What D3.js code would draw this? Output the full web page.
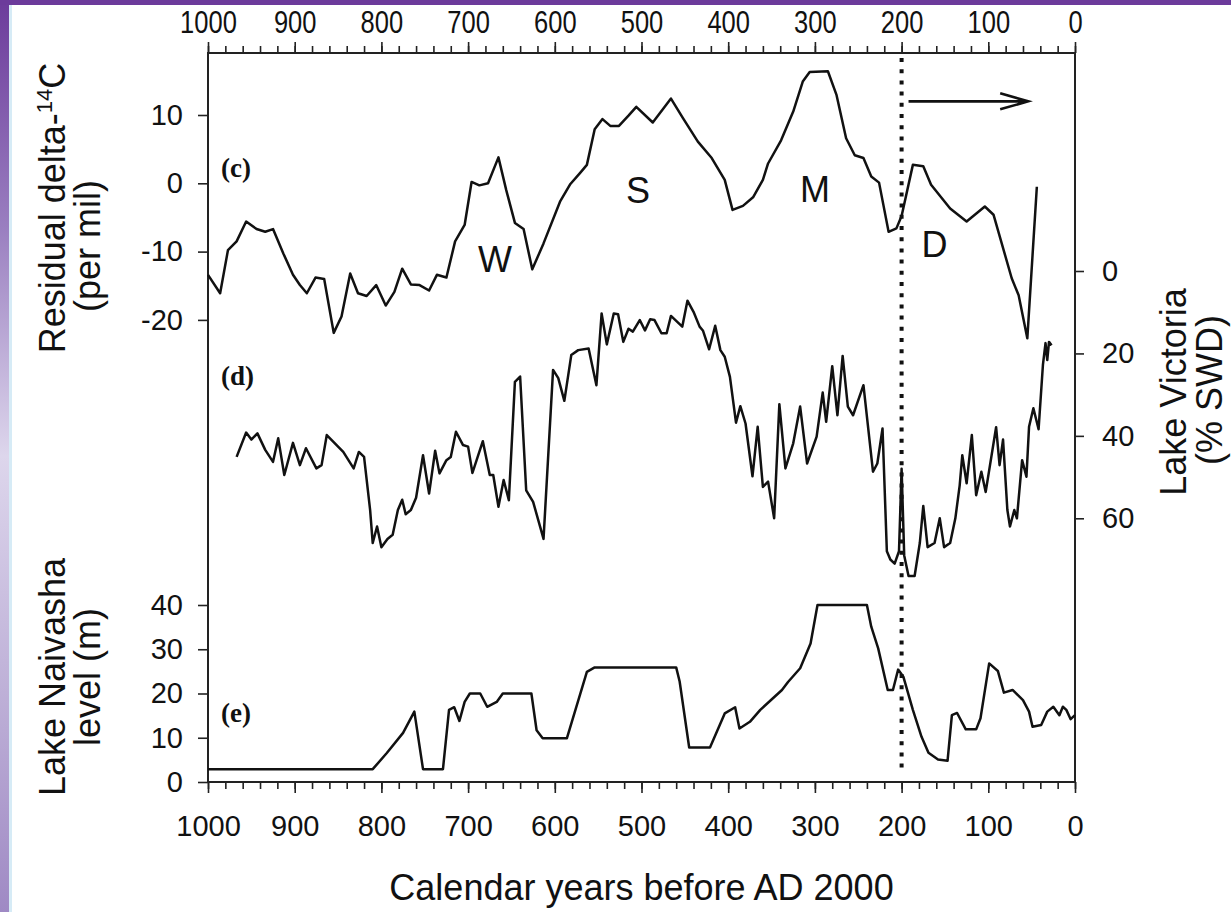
<!DOCTYPE html>
<html>
<head>
<meta charset="utf-8">
<script src="https://cdn.jsdelivr.net/npm/d3@7"></script>
<style>
  html, body { margin: 0; padding: 0; background: #fff; }
  svg { display: block; }
</style>
</head>
<body>
<div id="viz"></div>
<script>
'use strict';

// (c) residual delta-14C, per mil
const cYears = [1000, 986, 977, 967, 956, 944, 934, 925, 913, 902, 894, 886, 876, 866, 855, 846, 836, 827, 817, 806,
  795, 785, 776, 766, 756, 745, 736, 725, 715, 704, 696, 687, 677, 665, 656, 646, 636, 626, 613, 594,
  582, 571, 563, 554, 545, 536, 526, 515, 506, 487, 466, 452, 435, 419, 404, 395, 383, 371, 360, 354,
  339, 325, 314, 306, 285, 275, 264, 254, 244, 235, 226, 215, 206, 200, 187, 175, 166, 144, 125, 104,
  94, 73, 65, 55, 44];
const cValues = [-13.4, -16.1, -9.8, -8.5, -5.6, -6.7, -7.1, -6.7, -10.3, -13.4, -14.9, -16.1, -13.8, -14.0, -21.9, -19.5, -13.2, -16.1, -16.5, -14.9,
  -17.9, -15.9, -12.5, -14.8, -14.9, -15.7, -13.4, -13.8, -8.5, -6.1, 0.2, -0.3, 0.0, 3.8, -1.0, -5.8, -6.7, -12.6, -8.8, -2.7,
  -0.1, 1.5, 2.7, 7.9, 9.4, 8.4, 8.4, 9.9, 11.2, 8.9, 12.4, 9.5, 6.1, 3.7, 0.5, -3.9, -3.3, -2.0, 0.5, 2.9,
  6.3, 10.5, 14.9, 16.3, 16.4, 12.9, 6.6, 4.1, 3.7, 1.0, 0.1, -7.1, -6.6, -4.8, 2.7, 2.5, -0.2, -3.7, -5.6, -3.4,
  -4.6, -13.9, -16.4, -22.7, -0.5];

// (d) Lake Victoria, % SWD
const dYears = [967, 956, 950, 943, 934, 925, 919, 912, 902, 894, 887, 875, 869, 863, 844, 832, 826, 820, 813, 810,
  805, 800, 793, 787, 781, 776, 772, 766, 760, 752, 745, 738, 733, 725, 720, 714, 706, 700, 695, 683,
  675, 671, 665, 659, 653, 646, 640, 633, 625, 613, 602, 596, 589, 581, 573, 561, 552, 546, 540, 532,
  527, 521, 515, 510, 502, 496, 490, 485, 477, 471, 466, 453, 447, 440, 433, 429, 422, 415, 409, 404,
  398, 391, 386, 380, 372, 366, 360, 354, 347, 341, 334, 325, 317, 309, 298, 291, 287, 280, 274, 268,
  262, 256, 244, 233, 228, 222, 217, 213, 208, 203, 200, 197, 192, 185, 179, 175, 170, 162, 156, 151,
  144, 138, 133, 130, 125, 119, 114, 108, 103, 91, 87, 83, 78, 75, 70, 67, 61, 56, 53, 48,
  42, 37, 34, 32, 30, 27];
const dValues = [45.1, 39.2, 40.9, 39.4, 43.4, 46.3, 40.6, 49.5, 41.7, 47.1, 43.0, 47.9, 47.1, 39.8, 43.9, 47.9, 43.9, 45.1, 58.0, 66,
  62, 67, 65, 64, 58, 55.5, 59, 58, 55, 44.7, 54.0, 43.6, 49.1, 45.9, 45.1, 39.0, 42.2, 42.6, 49.0, 41.3,
  49.5, 49.5, 57.2, 50.7, 55.6, 26.9, 25.6, 53.2, 56.0, 65, 24.0, 26.0, 31.5, 20.4, 19.2, 18.8, 27.7, 10.3, 17.8, 10.3,
  10.5, 17.2, 14.0, 14.7, 11.9, 14.4, 11.7, 11.9, 15.1, 15.1, 10.9, 13.5, 7.2, 9.9, 13.5, 14.5, 19.0, 13.3, 19.2, 20.8,
  25.7, 36.8, 32.8, 37.0, 49.8, 37.8, 52.4, 51.1, 60, 32.3, 47.9, 41.8, 32.9, 46.7, 40.2, 29.5, 36.6, 23.1, 35.0, 20.6,
  32.9, 35.0, 27.7, 48.7, 46.7, 38.2, 68, 70, 71, 68, 48, 69, 74, 74, 66, 57, 67, 66, 60, 67,
  66, 60, 52, 44.7, 51.5, 39.8, 54.4, 48.7, 53.6, 37.9, 47.1, 40.9, 58, 62, 58, 60, 45.9, 49.9, 37.8, 33.3,
  38.4, 22.8, 17.5, 21.6, 17.2, 18.0];

// (e) Lake Naivasha level, m
const eYears = [1000, 810, 794, 775, 762, 752, 729, 722, 716, 710, 704, 698, 686, 678, 667, 660, 627, 621, 614, 586,
  563, 554, 460, 456, 445, 421, 404, 392, 387, 375, 363, 338, 331, 317, 305, 297, 240, 235, 227, 216,
  210, 204, 198, 187, 177, 169, 158, 147, 142, 136, 126, 114, 109, 99, 89, 82, 72, 60, 53, 49,
  39, 32, 25, 18, 14, 10, 5, 0];
const eValues = [2.9, 2.9, 6.5, 11.1, 15.9, 2.9, 2.9, 16.3, 16.9, 13.8, 18.1, 20.0, 20.0, 17.0, 18.1, 20.0, 20.0, 11.7, 9.9, 9.9,
  24.9, 25.9, 25.9, 22.7, 7.8, 7.8, 15.5, 16.9, 12.1, 13.6, 16.3, 20.8, 22.6, 25.7, 31.3, 40.0, 40.0, 35.1, 30.2, 20.8,
  20.8, 25.4, 23.8, 16.3, 10.2, 6.6, 5.1, 4.8, 15.1, 15.6, 11.9, 11.9, 14.4, 26.8, 25.1, 20.2, 20.8, 18.5, 15.9, 12.5,
  12.9, 15.9, 17.0, 15.1, 17.0, 16.3, 14.2, 15.1];

// axis ticks
const yearTicks = [1000, 900, 800, 700, 600, 500, 400, 300, 200, 100, 0];
const cTicks = [10, 0, -10, -20];
const dTicks = [0, 20, 40, 60];
const eTicks = [40, 30, 20, 10, 0];

// annotations: period letters placed on the (c) curve scale
const periodNames = ['W', 'S', 'M', 'D'];
const periodYears = [669, 504, 300, 162];
const periodValues = [-13, -2.9, -2.8, -10.8];

const panelNames = ['(c)', '(d)', '(e)'];

// arrow from the dotted line towards the present
const arrowYears = [192, 54];
const arrowValue = 12;
const splitYear = 200;

const W = 1231, H = 912;
const box = {left: 208, right: 1075, top: 53, bottom: 782};
const tickFont = '"Liberation Sans", Arial, sans-serif';

const svg = d3.select('#viz')
  .append('svg')
    .attr('width', W)
    .attr('height', H);

// purple slide border
const defs = svg.append('defs');
const grad = defs.append('linearGradient')
  .attr('id', 'sideGrad')
  .attr('x1', 0).attr('y1', 0).attr('x2', 0).attr('y2', 1);
grad.append('stop').attr('offset', '0%').attr('stop-color', '#6c3b9b');
grad.append('stop').attr('offset', '25%').attr('stop-color', '#9a7fc0');
grad.append('stop').attr('offset', '50%').attr('stop-color', '#ddd6ec');
grad.append('stop').attr('offset', '80%').attr('stop-color', '#b9aad4');
grad.append('stop').attr('offset', '100%').attr('stop-color', '#9f89c4');

svg.append('rect').attr('width', W).attr('height', H).attr('fill', '#fff');
svg.append('rect').attr('x', 0).attr('y', 0).attr('width', 9).attr('height', H).attr('fill', 'url(#sideGrad)');
svg.append('rect').attr('x', 9).attr('y', 5).attr('width', 3).attr('height', H - 5).attr('fill', '#d6ebf6');
svg.append('rect').attr('x', 0).attr('y', 0).attr('width', W).attr('height', 5).attr('fill', '#6c3b9b');

// scales
const x = d3.scaleLinear().domain([1000, 0]).range([box.left, box.right]);
const yC = d3.scaleLinear().domain([0, 10]).range([183.3, 115]);
const yD = d3.scaleLinear().domain([0, 60]).range([271, 518.3]);
const yE = d3.scaleLinear().domain([0, 40]).range([box.bottom, 605]);

const styleAxis = (g) => {
  g.select('.domain').remove();
  g.selectAll('line').attr('stroke', '#222').attr('stroke-width', 1.6);
  g.selectAll('text')
    .attr('fill', '#111')
    .style('font-family', tickFont)
    .style('font-size', '29px');
};

// bottom axis: minor every 20, major every 100
svg.append('g')
  .attr('transform', `translate(0,${box.bottom})`)
  .call(d3.axisBottom(x).tickValues(d3.range(0, 1001, 20)).tickSize(7).tickFormat(''))
  .call(styleAxis);
svg.append('g')
  .attr('transform', `translate(0,${box.bottom})`)
  .call(d3.axisBottom(x).tickValues(yearTicks).tickSize(11).tickPadding(22).tickFormat(d => String(d)))
  .call(styleAxis);

// top axis, labels a bit narrower and taller
svg.append('g')
  .attr('transform', `translate(0,${box.top})`)
  .call(d3.axisTop(x).tickValues(d3.range(0, 1001, 20)).tickSize(7).tickFormat(''))
  .call(styleAxis);
svg.append('g')
  .attr('transform', `translate(0,${box.top})`)
  .call(d3.axisTop(x).tickValues(yearTicks).tickSize(11).tickPadding(7).tickFormat(d => String(d)))
  .call(styleAxis)
  .selectAll('text')
    .attr('transform', 'scale(0.88,1.1)');

// left axes
svg.append('g')
  .attr('transform', `translate(${box.left},0)`)
  .call(d3.axisLeft(yC).tickValues(cTicks).tickSize(10).tickPadding(15).tickFormat(d => String(d)))
  .call(styleAxis);
svg.append('g')
  .attr('transform', `translate(${box.left},0)`)
  .call(d3.axisLeft(yE).tickValues(eTicks).tickSize(10).tickPadding(15).tickFormat(d => String(d)))
  .call(styleAxis);

// right axis
svg.append('g')
  .attr('transform', `translate(${box.right},0)`)
  .call(d3.axisRight(yD).tickValues(dTicks).tickSize(9).tickPadding(18).tickFormat(d => String(d)))
  .call(styleAxis);

// frame
svg.append('rect')
  .attr('x', box.left)
  .attr('y', box.top)
  .attr('width', box.right - box.left)
  .attr('height', box.bottom - box.top)
  .attr('fill', 'none')
  .attr('stroke', '#222')
  .attr('stroke-width', 2);

// series
const series = [
  {years: cYears, values: cValues, y: yC},
  {years: dYears, values: dValues, y: yD},
  {years: eYears, values: eValues, y: yE}
];

for (const s of series) {
  svg.append('path')
    .datum(d3.zip(s.years, s.values))
    .attr('fill', 'none')
    .attr('stroke', '#111')
    .attr('stroke-width', 2.5)
    .attr('stroke-linejoin', 'round')
    .attr('d', d3.line()
      .x(d => x(d[0]))
      .y(d => s.y(d[1]))
    );
}

// dotted divider
svg.append('line')
  .attr('x1', x(splitYear)).attr('x2', x(splitYear))
  .attr('y1', box.top + 5).attr('y2', box.bottom - 10)
  .attr('stroke', '#111')
  .attr('stroke-width', 4)
  .attr('stroke-dasharray', '4 7.2');

// arrow
const ay = yC(arrowValue);
const ax0 = x(arrowYears[0]), ax1 = x(arrowYears[1]);
svg.append('path')
  .attr('d', `M${ax0},${ay}H${ax1}M${ax1 - 28},${ay - 8}L${ax1},${ay}L${ax1 - 28},${ay + 8}`)
  .attr('fill', 'none')
  .attr('stroke', '#111')
  .attr('stroke-width', 2.6);

// period letters
svg.selectAll('text.period')
  .data(periodNames)
  .join('text')
    .attr('class', 'period')
    .attr('x', (d, i) => x(periodYears[i]))
    .attr('y', (d, i) => yC(periodValues[i]))
    .attr('text-anchor', 'middle')
    .style('font-family', tickFont)
    .style('font-size', '36px')
    .attr('fill', '#111')
    .text(d => d);

// panel letters
const panelY = [177, 385, 722];
svg.selectAll('text.panel')
  .data(panelNames)
  .join('text')
    .attr('class', 'panel')
    .attr('x', 221)
    .attr('y', (d, i) => panelY[i])
    .style('font-family', '"Liberation Serif", "Times New Roman", serif')
    .style('font-weight', 'bold')
    .style('font-size', '27px')
    .attr('fill', '#111')
    .text(d => d);

// axis titles
const title = (tx, ty, rot) => svg.append('text')
  .attr('transform', `translate(${tx},${ty}) rotate(${rot})`)
  .attr('text-anchor', 'middle')
  .style('font-family', tickFont)
  .style('font-size', '36px')
  .attr('fill', '#111');

title(641.5, 900, 0).text('Calendar years before AD 2000');

const cTitle = title(65, 208, -90);
cTitle.append('tspan').text('Residual delta-');
cTitle.append('tspan').attr('dy', -13).style('font-size', '22px').text('14');
cTitle.append('tspan').attr('dy', 13).text('C');
title(100, 246, -90).text('(per mil)');

title(65, 677, -90).text('Lake Naivasha');
title(100, 677, -90).text('level (m)');

title(1186, 392, -90).text('Lake Victoria');
title(1222, 390, -90).text('(% SWD)');
</script>
</body>
</html>
